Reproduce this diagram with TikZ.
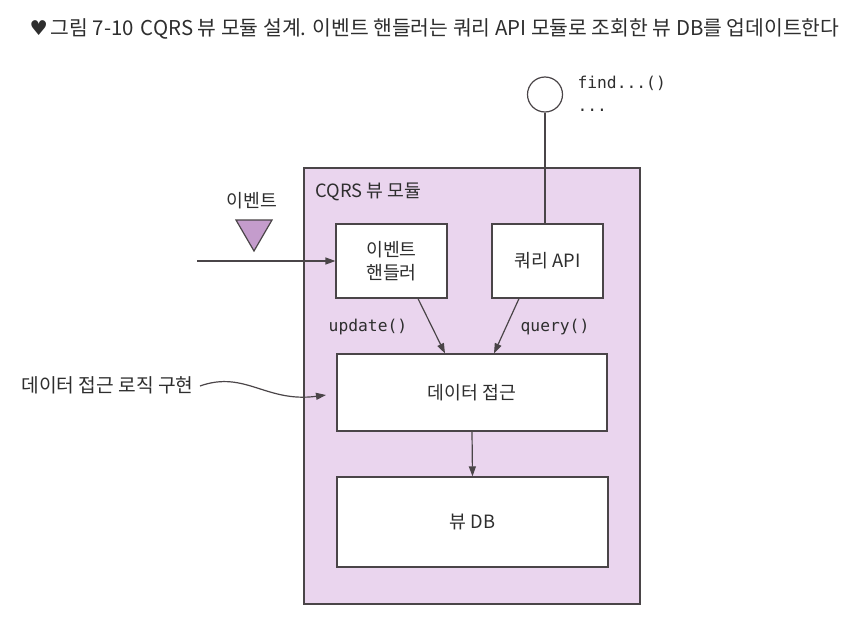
\documentclass[tikz,border=0pt]{standalone}
\usepackage{fontspec}
\setmainfont{Noto Sans CJK KR}
\newfontfamily\monof{DejaVu Sans Mono}
\newfontfamily\symf{DejaVu Sans}
\usetikzlibrary{arrows.meta,shapes.geometric}
\definecolor{ink}{HTML}{4A4548}
\definecolor{txt}{HTML}{2E2E2E}
\definecolor{modfill}{HTML}{EAD5EE}
\definecolor{trifill}{HTML}{C49CCC}
\tikzset{
  every node/.style={text=txt, font=\fontsize{18.3pt}{22pt}\selectfont},
  modbox/.style={draw=ink, line width=1.2pt, fill=modfill, rectangle, inner sep=0pt},
  inbox/.style={draw=ink, line width=1.2pt, fill=white, rectangle, inner sep=0pt, align=center},
  conn/.style={draw=ink, line width=1.2pt},
  arr/.style={conn, -{Triangle[length=10pt,width=7pt]}},
  codelbl/.style={font=\monof\fontsize{16.3pt}{19pt}\selectfont},
}
\begin{document}
\begin{tikzpicture}[x=1pt,y=-1pt]
\useasboundingbox[fill=white] (0,0) rectangle (852,624);
% title
\node[anchor=west, font=\fontsize{20.4pt}{24pt}\selectfont] (title) at (26,29) {{\symf ♥}\hspace{3pt}그림 7-10\hspace{7pt}CQRS 뷰 모듈 설계. 이벤트 핸들러는 쿼리 API 모듈로 조회한 뷰 DB를 업데이트한다};
% module
\node[modbox, minimum width=336pt, minimum height=436pt] (mod) at (472,386) {};
\node[anchor=west] (modlbl) at (312,192) {CQRS 뷰 모듈};
% inner boxes
\node[inbox, minimum width=111pt, minimum height=74pt] (eh) at (391.5,261) {이벤트\\[1pt]핸들러};
\node[inbox, minimum width=111pt, minimum height=74pt] (qa) at (547.5,261) {쿼리 API};
\node[inbox, minimum width=270pt, minimum height=77pt] (da) at (472,392.5) {데이터 접근};
\node[inbox, minimum width=271pt, minimum height=90pt] (db) at (472.5,522) {뷰 DB};
% interface circle
\node[draw=ink, line width=1.2pt, circle, minimum size=35pt, inner sep=0pt, fill=white] (circ) at (545,94.5) {};
\node[codelbl, anchor=west] (find) at (574,83) {find...()};
\node[codelbl, anchor=west] (dots) at (574,110) {...};
\draw[conn] (circ.south) -- (circ.south |- qa.north);
% event
\node (evlbl) at (252,201) {이벤트};
\coordinate (tria) at (236,220);
\coordinate (trib) at (272,220);
\coordinate (tric) at (254,251);
\draw[line width=1.2pt, draw=ink, fill=trifill, line join=miter] (tria) -- (trib) -- (tric) -- cycle;
\coordinate (evstart) at (197,261);
\draw[arr] (evstart) -- (eh.west);
% calls
\draw[arr] ([xshift=26.5pt]eh.south) -- ([xshift=-27pt]da.north);
\draw[arr] ([xshift=-28.5pt]qa.south) -- ([xshift=22pt]da.north);
\node[codelbl] (upd) at (368,327) {update()};
\node[codelbl] (qry) at (555,327) {query()};
\draw[arr] (da.south) -- (db.north);
% note
\node[anchor=west, font=\fontsize{19.2pt}{23pt}\selectfont] (note) at (18,385) {데이터 접근 로직 구현};
\coordinate (noteend) at (326,395);
\draw[arr] ([xshift=3pt,yshift=-1pt]note.east) .. controls +(45,-16) and +(-60,8) .. (noteend);
\end{tikzpicture}
\end{document}
